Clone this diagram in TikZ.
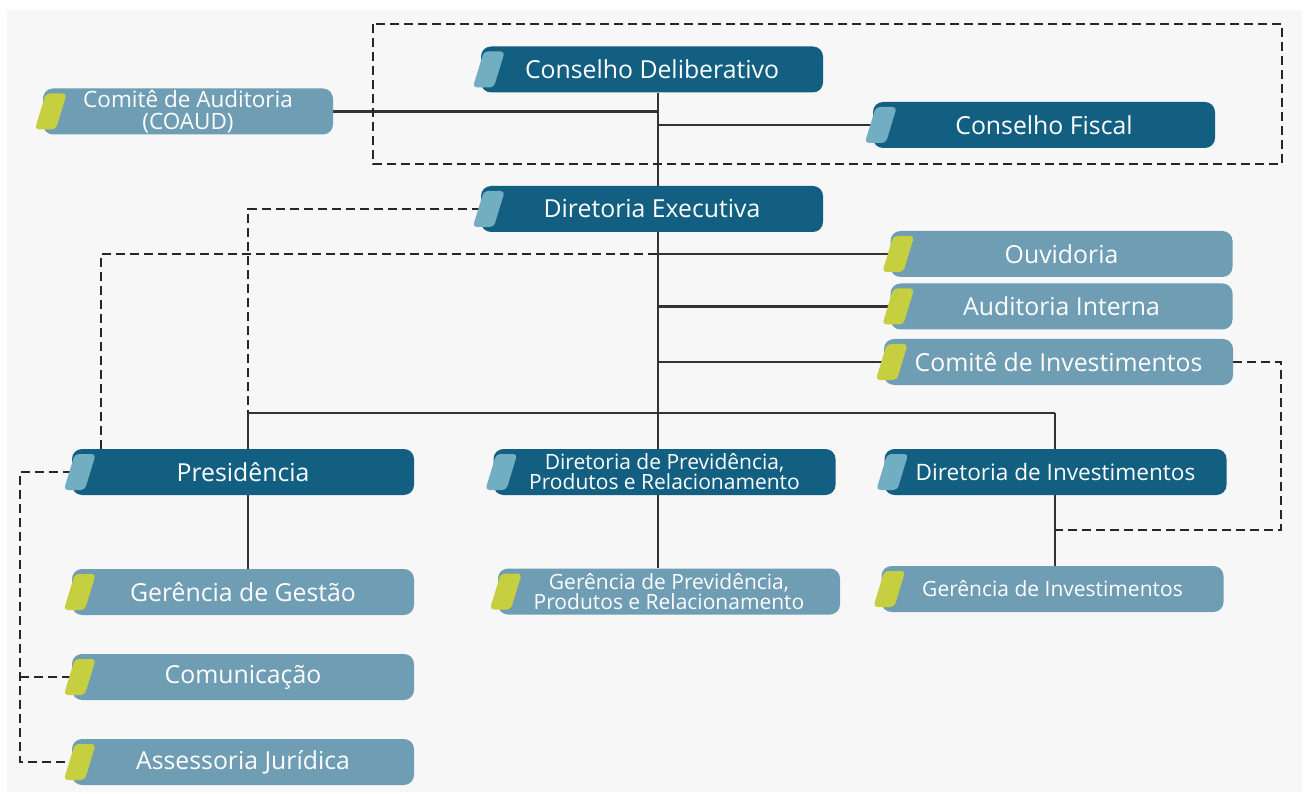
\documentclass[tikz,border=0pt]{standalone}
\usepackage{fontspec}
\setmainfont{Open Sans}
\usetikzlibrary{calc,backgrounds}
\definecolor{darkbox}{HTML}{125F82}
\definecolor{lightbox}{HTML}{6E9DB4}
\definecolor{tabblue}{HTML}{72AEC2}
\definecolor{tablime}{HTML}{C6CF3F}
\definecolor{linegray}{HTML}{333333}
\definecolor{backgray}{HTML}{F7F7F7}

\begin{document}
\begin{tikzpicture}[x=1pt,y=-1pt]
        \tikzset{unit/.style = {shape=rectangle,rounded corners=10pt,minimum width=342pt,minimum height=46pt,inner sep=0pt,align=center,text=white,font=\fontsize{24.8}{26}\selectfont}}
        \tikzset{unitd/.style = {unit,fill=darkbox}}
        \tikzset{unitl/.style = {unit,fill=lightbox}}
        \tikzset{small/.style = {font=\fontsize{21}{20}\selectfont}}
        \tikzset{link/.style = {draw=linegray,line width=2.5pt}}
        \tikzset{linkd/.style = {draw=black!85,line width=2.2pt,dash pattern=on 9pt off 5pt}}
        \useasboundingbox (0,0) rectangle (1307,794);
        % units
        \node[unitd] (cdel) at (652,69.5) {Conselho Deliberativo};
        \node[unitl,minimum width=290pt,font=\fontsize{22.5}{22}\selectfont] (coaud) at (188,111.5) {Comitê de Auditoria\\(COAUD)};
        \node[unitd] (cfis) at (1044,125) {Conselho Fiscal};
        \node[unitd] (dexe) at (652,209) {Diretoria Executiva};
        \node[unitl] (ouv) at (1061.5,254) {Ouvidoria};
        \node[unitl] (audi) at (1061.5,306.5) {Auditoria Interna};
        \node[unitl,minimum width=349pt] (cinv) at (1058.5,362) {Comitê de Investimentos};
        \node[unitd] (pres) at (243,472) {Presidência};
        \node[unitd,small] (dprev) at (664.5,472) {Diretoria de Previdência,\\Produtos e Relacionamento};
        \node[unitd,font=\fontsize{22.6}{24}\selectfont] (dinv) at (1055.5,472) {Diretoria de Investimentos};
        \node[unitl] (ggest) at (243,592) {Gerência de Gestão};
        \node[unitl,small] (gprev) at (669,591.5) {Gerência de Previdência,\\Produtos e Relacionamento};
        \node[unitl,small] (ginv) at (1052.5,589) {Gerência de Investimentos};
        \node[unitl] (com) at (243,677) {Comunicação};
        \node[unitl] (ajur) at (243,762) {Assessoria Jurídica};
        % tabs
        \foreach \n in {cdel,cfis,dexe,pres,dprev,dinv}
            \fill[tabblue,rounded corners=4pt] ($(\n.west)+(-8,18)$) -- ($(\n.west)+(3,-18)$) -- ($(\n.west)+(24,-18)$) -- ($(\n.west)+(13,18)$) -- cycle;
        \foreach \n in {coaud,ouv,audi,cinv,ggest,gprev,ginv,com,ajur}
            \fill[tablime,rounded corners=4pt] ($(\n.west)+(-8,18)$) -- ($(\n.west)+(3,-18)$) -- ($(\n.west)+(24,-18)$) -- ($(\n.west)+(13,18)$) -- cycle;
        % joints
        \coordinate (jbar) at (658,413);
        \coordinate (jpres) at (248,413);
        \coordinate (jinv) at (1055,413);
        \coordinate (jleft) at (20,0);
        \coordinate (jright) at (1281,530);
        \begin{pgfonlayer}{background}
        \fill[backgray] (7,10) rectangle (1302,792);
        %edges solid
        \draw[link] (cdel.south -| jbar) -- (jbar);
        \draw[link] (coaud.east) -- (coaud.east -| jbar);
        \draw[link] (jbar |- cfis.west) -- (cfis.west);
        \draw[link] (jbar |- ouv.west) -- (ouv.west);
        \draw[link] (jbar |- audi.west) -- (audi.west);
        \draw[link] (jbar |- cinv.west) -- (cinv.west);
        \draw[link] (jpres) -- (jinv);
        \draw[link] (jpres) -- (jpres |- pres.north);
        \draw[link] (jbar) -- (jbar |- dprev.north);
        \draw[link] (jinv) -- (jinv |- dinv.north);
        \draw[link] (jpres |- pres.south) -- (jpres |- ggest.north);
        \draw[link] (jbar |- dprev.south) -- (jbar |- gprev.north);
        \draw[link] (jinv |- dinv.south) -- (jinv |- ginv.north);
        %edges dashed
        \draw[linkd] (373,24) rectangle (1282,164);
        \draw[linkd] (dexe.west) -| (jpres);
        \draw[linkd] ($(pres.north west)+(29,0)$) |- (jbar |- ouv.west);
        \draw[linkd] (pres.west) -| (jleft |- ajur.west) -- (ajur.west);
        \draw[linkd] (jleft |- com.west) -- (com.west);
        \draw[linkd] (cinv.east) -| (jright) -- (jinv |- jright);
        \end{pgfonlayer}
\end{tikzpicture}
\end{document}
